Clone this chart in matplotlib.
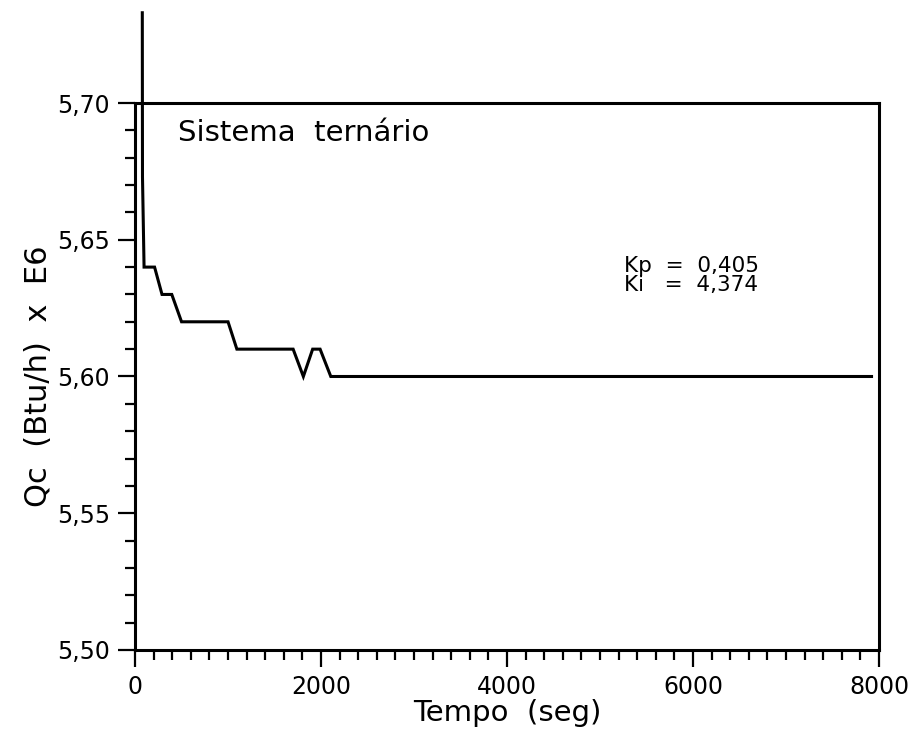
import matplotlib
matplotlib.use("Agg")
import matplotlib.pyplot as plt
from matplotlib.ticker import MultipleLocator, FuncFormatter

# Controller response of the condenser duty (ternary system)
tempo = [78, 80, 97, 210, 290, 395, 500, 1000, 1095, 1700, 1810, 1910, 1990, 2105, 7920]
qc = [5.733, 5.673, 5.640, 5.640, 5.630, 5.630, 5.620, 5.620, 5.610, 5.610,
      5.600, 5.610, 5.610, 5.600, 5.600]

x_ticks = [0, 2000, 4000, 6000, 8000]
y_ticks = [5.50, 5.55, 5.60, 5.65, 5.70]

kp = "0,405"
ki = "4,374"

plt.rcParams["font.family"] = ["DejaVu Sans"]

fig = plt.figure(figsize=(9.10, 7.29), dpi=100)
ax = fig.add_axes([0.1484, 0.1084, 0.9659 - 0.1484, 0.8587 - 0.1084])

ax.plot(tempo, qc, color="black", lw=2.2, clip_on=False, solid_joinstyle="miter")

ax.set_xlim(0, 8000)
ax.set_ylim(5.50, 5.70)
ax.set_xticks(x_ticks)
ax.set_yticks(y_ticks)
ax.xaxis.set_minor_locator(MultipleLocator(200))
ax.yaxis.set_minor_locator(MultipleLocator(0.01))
ax.yaxis.set_major_formatter(FuncFormatter(lambda v, p: f"{v:.2f}".replace(".", ",")))
ax.xaxis.set_major_formatter(FuncFormatter(lambda v, p: f"{v:.0f}"))

ax.tick_params(which="major", direction="out", length=12, width=1.6,
               labelsize=17, pad=6, color="black")
ax.tick_params(which="minor", direction="out", length=7, width=1.6, color="black")

for s in ax.spines.values():
    s.set_linewidth(2.2)
    s.set_color("black")

ax.set_xlabel("Tempo  (seg)", fontsize=21, labelpad=0)
ax.set_ylabel("Qc  (Btu/h)  x  E6", fontsize=22, labelpad=3)

ax.text(0.058, 0.97, "Sistema  ternário", transform=ax.transAxes,
        fontsize=21, va="top", ha="left")
ax.text(0.657, 0.72, f"Kp  =  {kp}\nKi   =  {ki}", transform=ax.transAxes,
        fontsize=15.5, va="top", ha="left", linespacing=0.9)

fig.savefig("out.png", dpi=100)
